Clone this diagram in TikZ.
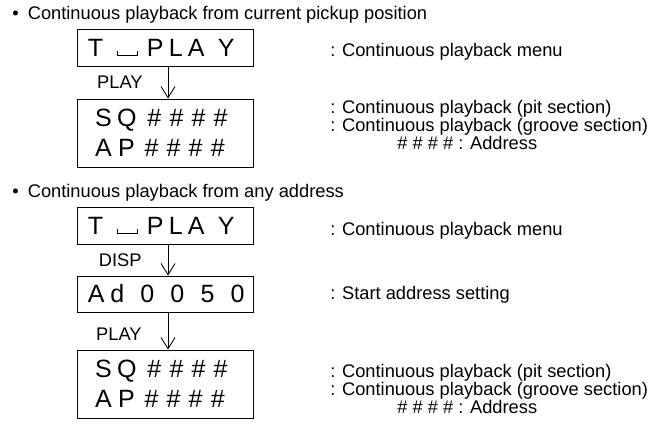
\documentclass[tikz,border=0pt]{standalone}
\usepackage{fontspec}
\setmainfont{Liberation Sans}
\usetikzlibrary{arrows.meta}
\newcommand{\espai}{\kern1pt\vrule height 3.6pt width .6pt\vrule height .6pt width 14pt\vrule height 3.6pt width .6pt\kern1pt}
\tikzset{
  pantalla/.style={draw, line width=.7pt, font=\fontsize{17.8}{21.3}\selectfont,
    align=left, text width=3.875cm, inner xsep=.25cm, inner ysep=0pt, minimum height=.925cm},
  doble/.style={pantalla, minimum height=1.7cm},
  fletxa/.style={-{Straight Barb[length=8pt,width=10pt]}, line width=.6pt},
  tecla/.style={font=\fontsize{13}{15}\selectfont, inner sep=0pt},
  nota/.style={font=\fontsize{13}{16}\selectfont, inner sep=0pt, anchor=base west},
  titol/.style={nota},
}

\begin{document}
\begin{tikzpicture}[x=0.025cm,y=-0.025cm]
  \useasboundingbox (0,0) rectangle (655,423);

  % des de la posicio actual
  \node[titol] (t1) at (12,19.6) {\textbullet\enspace Continuous playback from current pickup position};
  \node[pantalla] (m1) at (165.5,47.5)
    {T\hspace*{8.7pt}\espai\hspace*{5.1pt}P\hspace*{3.8pt}L\hspace*{3.6pt}A\hspace*{9.5pt}Y};
  \node[doble] (r1) at (165.5,133)
    {\hspace*{5pt}S\hspace*{3.8pt}Q\hspace*{7.8pt}\#\hspace*{5.8pt}\#\hspace*{5.8pt}\#\hspace*{5.8pt}\#\\
     \hspace*{5pt}A\hspace*{4.5pt}P\hspace*{7pt}\#\hspace*{5.8pt}\#\hspace*{5.8pt}\#\hspace*{5.8pt}\#};
  \draw[fletxa] ([xshift=1.8pt]m1.south) -- node[tecla, left=.625cm] (k1) {PLAY} ([xshift=1.8pt]r1.north);

  \node[nota] (n1) at (330,56.6) {: Continuous playback menu};
  \node[nota] (n2) at (330,113.6) {: Continuous playback (pit section)};
  \node[nota] (n3) at (330,131.6) {: Continuous playback (groove section)};
  \node[nota] (n4) at (397,149.6) {\# \# \# \# : Address};

  % des de qualsevol adreca
  \node[titol] (t2) at (12,197.6) {\textbullet\enspace Continuous playback from any address};
  \node[pantalla] (m2) at (165.5,225.5)
    {T\hspace*{8.7pt}\espai\hspace*{5.1pt}P\hspace*{3.8pt}L\hspace*{3.6pt}A\hspace*{9.5pt}Y};
  \node[pantalla, minimum height=.9cm] (a2) at (165.5,294)
    {A\hspace*{4pt}d\hspace*{11.5pt}0\hspace*{11.5pt}0\hspace*{11.5pt}5\hspace*{11.5pt}0};
  \node[doble] (r2) at (165.5,384)
    {\hspace*{5pt}S\hspace*{3.8pt}Q\hspace*{7.8pt}\#\hspace*{5.8pt}\#\hspace*{5.8pt}\#\hspace*{5.8pt}\#\\
     \hspace*{5pt}A\hspace*{4.5pt}P\hspace*{7pt}\#\hspace*{5.8pt}\#\hspace*{5.8pt}\#\hspace*{5.8pt}\#};
  \draw[fletxa] ([xshift=1.8pt]m2.south) -- node[tecla, left=.65cm] (k2) {DISP} ([xshift=1.8pt]a2.north);
  \draw[fletxa] ([xshift=1.8pt]a2.south) -- node[tecla, left=.65cm, pos=.6] (k3) {PLAY} ([xshift=1.8pt]r2.north);

  \node[nota] (n5) at (330,235.6) {: Continuous playback menu};
  \node[nota] (n6) at (330,299.6) {: Start address setting};
  \node[nota] (n7) at (330,377.6) {: Continuous playback (pit section)};
  \node[nota] (n8) at (330,395.6) {: Continuous playback (groove section)};
  \node[nota] (n9) at (397,413.6) {\# \# \# \# : Address};
\end{tikzpicture}
\end{document}
